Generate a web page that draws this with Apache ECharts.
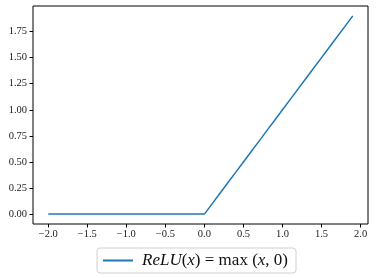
<!DOCTYPE html>
<html><head><meta charset="utf-8">
<script src="https://cdn.jsdelivr.net/npm/echarts@6/dist/echarts.min.js"></script>
<style>html,body{margin:0;padding:0;background:#fff}#c{width:388px;height:278px}</style>
</head><body><div id="c"></div>
<script>
const xValues = [-2.0,-1.9,-1.8,-1.7,-1.6,-1.5,-1.4,-1.3,-1.2,-1.1,-1.0,-0.9,-0.8,-0.7,-0.6,-0.5,-0.4,-0.3,-0.2,-0.1,0.0,0.1,0.2,0.3,0.4,0.5,0.6,0.7,0.8,0.9,1.0,1.1,1.2,1.3,1.4,1.5,1.6,1.7,1.8,1.9];
const reluValues = [0,0,0,0,0,0,0,0,0,0,0,0,0,0,0,0,0,0,0,0,0,0.1,0.2,0.3,0.4,0.5,0.6,0.7,0.8,0.9,1.0,1.1,1.2,1.3,1.4,1.5,1.6,1.7,1.8,1.9];
const xTicks = [-2.0,-1.5,-1.0,-0.5,0.0,0.5,1.0,1.5,2.0];
const yTicks = [0.00,0.25,0.50,0.75,1.00,1.25,1.50,1.75];
const seriesName = 'ReLU';

const font = 'Liberation Serif, DejaVu Serif, serif';
const fmt = (d) => (v) => v.toFixed(d).replace('-', '\u2212 ').replace('\u2212 ', '\u2212');
const chart = echarts.init(document.getElementById('c'), null, {renderer:'canvas'});
chart.setOption({
  animation: false,
  grid: {left: 33, right: 20, top: 6, bottom: 54, show: true, borderColor: '#000', borderWidth: 1, containLabel: false},
  xAxis: {
    type: 'value', min: -2.195, max: 2.095,
    splitLine: {show: false},
    axisLine: {show: false, onZero: false},
    axisTick: {show: true, inside: false, length: 3.5, lineStyle: {color: '#000'}, customValues: xTicks},
    axisLabel: {customValues: xTicks, formatter: fmt(1), color: '#222', fontFamily: font, fontSize: 10.5, margin: 5}
  },
  yAxis: {
    type: 'value', min: -0.095, max: 1.995,
    splitLine: {show: false},
    axisLine: {show: false, onZero: false},
    axisTick: {show: true, inside: false, length: 3.5, lineStyle: {color: '#000'}, customValues: yTicks},
    axisLabel: {customValues: yTicks, formatter: fmt(2), color: '#222', fontFamily: font, fontSize: 10.5, margin: 6}
  },
  legend: {
    left: 97, top: 248, width: 195, height: 27,
    itemWidth: 30, itemHeight: 2, itemGap: 10,
    padding: [4, 8, 4, 6],
    borderColor: '#d0d0d0', borderWidth: 1, borderRadius: 3,
    icon: 'rect',
    data: [seriesName],
    formatter: () => '{i|ReLU}{r|(}{i|x}{r|) = max (}{i|x}{r|, 0)}',
    textStyle: {
      padding: [0, 0, 0, 4],
      rich: {
        i: {fontFamily: font, fontStyle: 'italic', fontSize: 17, color: '#111'},
        r: {fontFamily: font, fontSize: 17, color: '#111'}
      }
    }
  },
  series: [{
    name: seriesName, type: 'line', showSymbol: false, symbol: 'none',
    data: xValues.map((x, i) => [x, reluValues[i]]),
    lineStyle: {color: '#1f77b4', width: 1.5},
    itemStyle: {color: '#1f77b4'}
  }]
});
</script></body></html>
